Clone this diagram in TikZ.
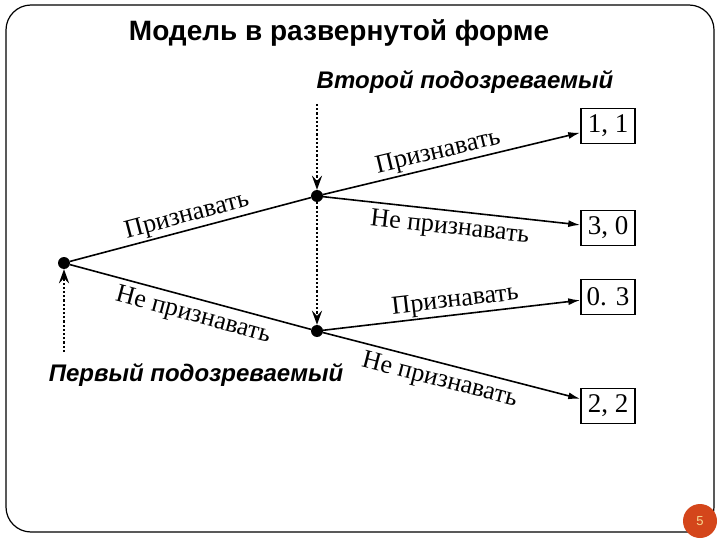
\documentclass[tikz,border=0pt]{standalone}
\usepackage{fontspec}
\setmainfont{Liberation Serif}
\newfontfamily\arialf{Liberation Sans}
\usetikzlibrary{arrows.meta}
\definecolor{pgnum}{HTML}{D4461B}
\definecolor{pgtxt}{HTML}{F6D990}
\tikzset{
  dec/.style={circle, fill=black, minimum size=12pt, inner sep=0pt},
  payoff/.style={draw, line width=1.5pt, minimum width=54pt, minimum height=35pt, inner sep=0pt, font=\fontsize{27}{29}\selectfont},
  branch/.style={line width=1.6pt},
  tobox/.style={line width=1.6pt, -{Latex[length=12pt,width=7pt]}},
  infoline/.style={line width=2.4pt, dash pattern=on 2.2pt off 2pt, -{Stealth[length=14pt,width=10pt,inset=5pt]}},
  lbl/.style={font=\fontsize{26}{28}\selectfont, sloped, inner sep=1.5pt},
  lblb/.style={lbl, below=4pt},
  player/.style={font=\arialf\bfseries\itshape\fontsize{24}{28}\selectfont}
}
\begin{document}
\begin{tikzpicture}[x=1pt,y=-1pt]
\useasboundingbox (0,0) rectangle (720,540);
\fill[white] (0,0) rectangle (720,540);
\draw[line width=1.2pt, rounded corners=25pt] (6,5) rectangle (714,532);
\node (title) at (339,33) {\arialf\bfseries\fontsize{28}{32}\selectfont Модель в развернутой форме};
\node[player] (p2) at (465,82) {Второй подозреваемый};
\node[player] (p1) at (196,375) {Первый подозреваемый};
% decision nodes
\node[dec] (root) at (64,263) {};
\node[dec] (up) at (317,196) {};
\node[dec] (lo) at (317,331) {};
% payoffs
\node[payoff] (b11) at (608,126) {1, 1};
\node[payoff] (b30) at (608,228) {3, 0};
\node[payoff] (b03) at (608,297) {0. 3};
\node[payoff] (b22) at (608,406) {2, 2};
% information lines
\coordinate (topin) at (317,104);
\coordinate (rootin) at (64,352);
\draw[infoline] (topin) -- (up);
\draw[infoline] (up) -- (lo);
\draw[infoline] (rootin) -- (root);
% branches
\draw[branch] (root) -- node[lbl, above, pos=0.5] {Признавать} (up);
\draw[branch] (root) -- node[lblb, pos=0.53] {Не признавать} (lo);
\draw[tobox] (up) -- node[lbl, above, pos=0.46] {Признавать} (b11);
\draw[tobox] (up) -- node[lblb, pos=0.5] {Не признавать} (b30);
\draw[tobox] (lo) -- node[lbl, above, pos=0.52] {Признавать} (b03);
\draw[tobox] (lo) -- node[lblb, pos=0.47] {Не признавать} (b22);
% page number
\node[circle, fill=pgnum, minimum size=34pt, inner sep=0pt] (pg) at (700,521) {\color{pgtxt}\arialf\fontsize{13}{15}\selectfont 5};
\end{tikzpicture}
\end{document}
